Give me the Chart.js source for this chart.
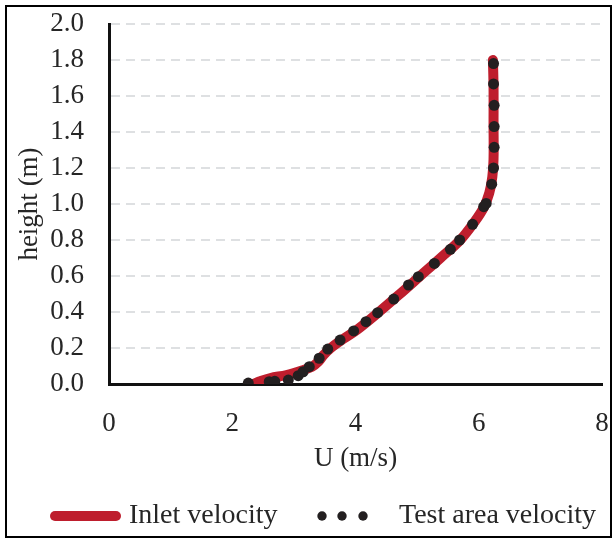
<!DOCTYPE html>
<html>
<head>
<meta charset="utf-8">
<script src="https://cdn.jsdelivr.net/npm/chart.js@4/dist/chart.umd.min.js"></script>
<style>
  html, body { margin: 0; padding: 0; background: #fff; }
  #wrap { position: relative; width: 612px; height: 538px; }
</style>
</head>
<body>
<div id="wrap"><canvas id="c" width="612" height="538"></canvas></div>
<script>
// ---- data ----
const inletU = [2.34, 2.45, 2.62, 2.88, 3.13, 3.29, 3.40, 3.48, 3.60, 3.80, 4.02, 4.38, 4.72, 5.05, 5.38, 5.70, 5.93, 6.08, 6.17, 6.22, 6.24, 6.24, 6.24, 6.23];
const inletH = [0.00, 0.015, 0.033, 0.05, 0.075, 0.095, 0.125, 0.16, 0.20, 0.25, 0.30, 0.40, 0.50, 0.60, 0.70, 0.80, 0.90, 0.98, 1.06, 1.15, 1.25, 1.45, 1.65, 1.80];

const testU = [2.26, 2.60, 2.69, 2.91, 3.07, 3.15, 3.25, 3.41, 3.55, 3.75, 3.97, 4.17, 4.36, 4.62, 4.86, 5.02, 5.28, 5.54, 5.69, 5.90, 6.08, 6.12, 6.21, 6.24, 6.25, 6.25, 6.25, 6.24, 6.24];
const testH = [0.005, 0.013, 0.015, 0.022, 0.046, 0.068, 0.096, 0.143, 0.194, 0.244, 0.295, 0.346, 0.396, 0.472, 0.55, 0.596, 0.67, 0.748, 0.80, 0.887, 0.985, 1.003, 1.11, 1.20, 1.315, 1.43, 1.548, 1.667, 1.78];

const seriesNames = ["Inlet velocity", "Test area velocity"];
const xTicks = [0, 2, 4, 6, 8];
const yTicks = [0.0, 0.2, 0.4, 0.6, 0.8, 1.0, 1.2, 1.4, 1.6, 1.8, 2.0];
const xTitle = "U (m/s)";
const yTitle = "height (m)";

const RED = "#BE1E2D";
const DOT = "#231F20";
const TXT = "#262626";
const FONT = "'Liberation Serif', 'Times New Roman', serif";
const FS = 27;
const LEG_FS = 28;

const toPts = (xs, ys) => xs.map((x, i) => ({ x: x, y: ys[i] }));

const framePlugin = {
  id: 'frameAndLegend',
  beforeDraw(chart) {
    const ctx = chart.ctx;
    ctx.save();
    ctx.fillStyle = '#fff';
    ctx.fillRect(0, 0, chart.width, chart.height);
    ctx.restore();
  },
  afterDraw(chart) {
    const ctx = chart.ctx;
    ctx.save();
    // outer frame
    ctx.strokeStyle = '#000';
    ctx.lineWidth = 2;
    ctx.strokeRect(6, 6, 605, 531);
    // legend
    const y = 516;
    ctx.lineCap = 'round';
    ctx.strokeStyle = chart.data.datasets[0].borderColor;
    ctx.lineWidth = 10;
    ctx.beginPath();
    ctx.moveTo(55, y);
    ctx.lineTo(116, y);
    ctx.stroke();
    ctx.font = LEG_FS + "px " + FONT;
    ctx.fillStyle = TXT;
    ctx.textBaseline = 'middle';
    ctx.textAlign = 'left';
    ctx.fillText(chart.data.datasets[0].label, 129, y);
    ctx.fillStyle = chart.data.datasets[1].backgroundColor;
    [322, 342, 363].forEach(cx => {
      ctx.beginPath();
      ctx.arc(cx, y, 4.7, 0, Math.PI * 2);
      ctx.fill();
    });
    ctx.fillStyle = TXT;
    ctx.fillText(chart.data.datasets[1].label, 399, y);
    ctx.restore();
  }
};

new Chart(document.getElementById('c'), {
  type: 'scatter',
  data: {
    datasets: [
      {
        label: seriesNames[0],
        data: toPts(inletU, inletH),
        showLine: true,
        borderColor: RED,
        backgroundColor: RED,
        borderWidth: 10,
        borderCapStyle: 'round',
        borderJoinStyle: 'round',
        tension: 0.35,
        pointRadius: 0,
        order: 2
      },
      {
        label: seriesNames[1],
        data: toPts(testU, testH),
        showLine: false,
        backgroundColor: DOT,
        borderColor: DOT,
        borderWidth: 0,
        pointRadius: 5.5,
        order: 1
      }
    ]
  },
  options: {
    responsive: false,
    animation: false,
    layout: { padding: { top: 24, right: 10, bottom: 46, left: 0 } },
    plugins: {
      legend: { display: false },
      tooltip: { enabled: false }
    },
    scales: {
      x: {
        type: 'linear',
        min: 0, max: 8,
        afterBuildTicks: s => { s.ticks = xTicks.map(v => ({ value: v })); },
        afterFit: s => { s.height = 108; s.paddingLeft = 0; s.paddingRight = 0; },
        grid: { display: false, drawTicks: false },
        border: { display: true, color: '#111', width: 3 },
        ticks: {
          padding: 24,
          autoSkip: false,
          maxRotation: 0,
          color: TXT,
          font: { family: FONT, size: FS },
          callback: v => String(v)
        },
        title: {
          display: true,
          text: xTitle,
          color: TXT,
          font: { family: FONT, size: FS },
          padding: { top: 0, bottom: 17 }
        }
      },
      y: {
        type: 'linear',
        min: 0, max: 2,
        afterBuildTicks: s => { s.ticks = yTicks.map(v => ({ value: v })); },
        afterFit: s => { s.width = 109; s.paddingTop = 0; s.paddingBottom = 0; },
        grid: {
          drawTicks: false,
          color: c => (c.tick && c.tick.value === 0) ? 'rgba(0,0,0,0)' : '#DEE0E2',
          lineWidth: 2,
          tickBorderDash: [9, 6]
        },
        border: { display: true, color: '#111', width: 3, dash: [9, 6] },
        ticks: {
          padding: 25,
          autoSkip: false,
          color: TXT,
          font: { family: FONT, size: FS },
          callback: v => Number(v).toFixed(1)
        },
        title: {
          display: true,
          text: yTitle,
          color: TXT,
          font: { family: FONT, size: FS },
          padding: { top: 14, bottom: 0 }
        }
      }
    }
  },
  plugins: [framePlugin]
});
</script>
</body>
</html>
